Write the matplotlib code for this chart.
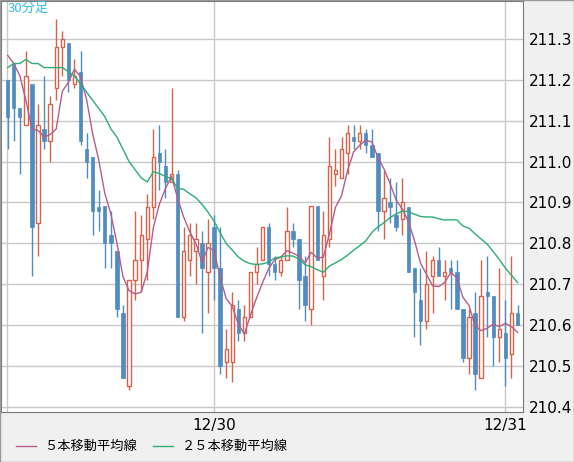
import matplotlib
matplotlib.use("Agg")
import matplotlib.pyplot as plt
import numpy as np
import pandas as pd

opens = [211.20,211.24,211.13,211.09,211.19,210.85,211.08,211.05,211.18,211.28,211.29,211.19,211.22,211.03,211.01,210.89,210.89,210.82,210.78,210.63,
         210.45,210.71,210.76,210.81,210.89,211.02,210.99,210.95,210.97,210.62,210.76,210.78,210.80,210.73,210.84,210.74,210.51,210.51,210.64,210.58,
         210.62,210.73,210.76,210.84,210.75,210.73,210.76,210.83,210.81,210.72,210.64,210.89,210.72,210.81,210.97,210.96,211.02,211.06,211.05,211.07,
         211.04,211.02,210.88,210.90,210.87,210.86,210.89,210.74,210.66,210.61,210.72,210.76,210.72,210.74,210.73,210.64,210.52,210.63,210.47,210.68,
         210.67,210.57,210.58,210.53,210.63]
highs = [211.20,211.24,211.13,211.27,211.19,211.14,211.21,211.16,211.35,211.32,211.29,211.25,211.27,211.07,211.01,210.93,210.89,210.88,210.78,210.65,
         210.71,210.88,210.87,210.92,211.08,211.09,211.03,211.18,210.98,210.84,210.85,210.85,210.83,210.86,210.87,210.84,210.59,210.68,210.66,210.65,
         210.73,210.79,210.84,210.85,210.77,210.77,210.89,210.85,210.81,210.77,210.89,210.89,210.88,211.06,211.03,211.06,211.09,211.09,211.09,211.08,
         211.08,211.02,210.98,210.96,210.95,210.96,210.89,210.74,210.74,210.78,210.77,210.79,210.76,210.76,210.76,210.64,210.64,210.68,210.76,210.77,
         210.67,210.74,210.66,210.77,210.65]
lows = [211.03,211.05,210.97,211.09,210.72,210.77,211.03,211.00,211.15,211.21,211.17,211.18,211.04,210.96,210.82,210.83,210.74,210.74,210.62,210.47,
        210.44,210.66,210.68,210.71,210.86,210.93,210.91,210.95,210.62,210.61,210.72,210.70,210.58,210.63,210.66,210.48,210.47,210.46,210.56,210.56,
        210.62,210.70,210.76,210.72,210.71,210.72,210.76,210.79,210.64,210.61,210.60,210.76,210.66,210.79,210.94,210.96,210.97,211.03,211.03,211.02,
        211.01,210.83,210.81,210.85,210.83,210.82,210.73,210.57,210.55,210.59,210.63,210.72,210.66,210.64,210.64,210.51,210.48,210.44,210.47,210.57,
        210.50,210.51,210.45,210.47,210.60]
closes = [211.11,211.13,211.11,211.21,210.84,211.09,211.05,211.14,211.28,211.30,211.20,211.21,211.05,211.00,210.88,210.88,210.80,210.80,210.64,210.47,
          210.71,210.76,210.82,210.89,211.01,211.00,210.95,210.97,210.62,210.78,210.82,210.81,210.74,210.80,210.74,210.50,210.54,210.65,210.58,210.62,
          210.73,210.75,210.84,210.75,210.73,210.76,210.83,210.81,210.71,210.65,210.89,210.76,210.82,210.99,210.98,211.03,211.07,211.05,211.07,211.04,
          211.01,210.88,210.91,210.89,210.84,210.90,210.73,210.68,210.61,210.70,210.76,210.72,210.73,210.73,210.64,210.52,210.62,210.48,210.67,210.67,
          210.57,210.59,210.52,210.63,210.60]
# moving-average values read from the chart where earlier bars are not shown
ma5_head = [211.26,211.24,211.21,211.15]
ma25_head = [211.23,211.24,211.24,211.25,211.24,211.24,211.23,211.23,211.23,211.23,211.22,211.21,
             211.19,211.17,211.15,211.13,211.11,211.08,211.06,211.03,211.00,210.98,210.96,210.95]
yticks = [210.4,210.5,210.6,210.7,210.8,210.9,211.0,211.1,211.2,211.3]
date_pos = [34, 82]
date_labels = ["12/30", "12/31"]

c = pd.Series(closes)
ma5 = c.rolling(5).mean().values
ma5[:4] = ma5_head
ma25 = c.rolling(25).mean().values
ma25[:24] = ma25_head

UP = "#d9634a"; DN = "#4f8cc0"; M5 = "#b55d8c"; M25 = "#2cae74"

fig = plt.figure(figsize=(5.74, 4.62), dpi=100, facecolor="#f0f0f0")
ax = fig.add_axes([1/574, 1-412/462, 522/574, 411/462])
ax.set_facecolor("white")
x = np.arange(len(closes))
ax.set_xlim(-1.1, 84.9)
ax.set_ylim(210.387, 211.393)
for yv in yticks:
    ax.axhline(yv, color="#c8c8c8", lw=1, zorder=0)
for xv in [-0.12] + date_pos:
    ax.axvline(xv, color="#c8c8c8", lw=1, zorder=0)

w = 0.55
for i in x:
    o, h, l, cl = opens[i], highs[i], lows[i], closes[i]
    if cl >= o:
        ax.vlines(i, l, o, color=UP, lw=1, zorder=2)
        ax.vlines(i, cl, h, color=UP, lw=1, zorder=2)
        ax.add_patch(plt.Rectangle((i - w/2, o), w, max(cl - o, 0.002), facecolor="white", edgecolor=UP, lw=1, zorder=3))
    else:
        ax.vlines(i, l, h, color=DN, lw=1, zorder=2)
        ax.add_patch(plt.Rectangle((i - w/2, cl), w, o - cl, facecolor=DN, edgecolor=DN, lw=0.5, zorder=3))

ax.plot(x, ma5, color=M5, lw=1, zorder=4)
ax.plot(x, ma25, color=M25, lw=1, zorder=4)

ax.yaxis.tick_right()
ax.set_yticks(yticks)
ax.set_yticklabels([f"{v:.1f}" for v in yticks], family="DejaVu Sans", fontsize=11)
ax.set_xticks(date_pos)
ax.set_xticklabels(date_labels, family="DejaVu Sans", fontsize=11)
ax.tick_params(length=0, pad=4)
for s in ax.spines.values():
    s.set_color("#777777")

fam = ["Noto Sans CJK JP", "DejaVu Sans"]
ax.text(0.012, 0.997, "30分足", transform=ax.transAxes, va="top", ha="left", color="#33bbee", fontsize=9.5, family=fam)
fig.add_artist(plt.Line2D([16/574, 36/574], [1-446/462]*2, color=M5, lw=1))
fig.text(44/574, 1-446/462, "５本移動平均線", va="center", fontsize=9.5, family=fam)
fig.add_artist(plt.Line2D([153/574, 173/574], [1-446/462]*2, color=M25, lw=1))
fig.text(182/574, 1-446/462, "２５本移動平均線", va="center", fontsize=9.5, family=fam)
fig.add_artist(plt.Rectangle((0, 0), 1, 1, transform=fig.transFigure, fill=False, edgecolor="#999999", lw=1))
fig.savefig("out.png", dpi=100, facecolor=fig.get_facecolor())
